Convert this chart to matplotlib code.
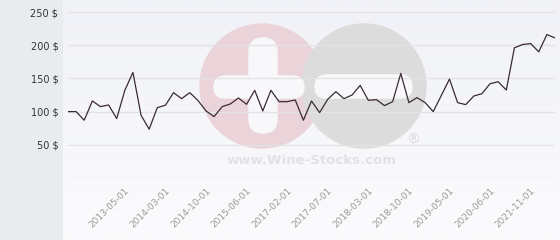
import matplotlib.pyplot as plt
import numpy as np
from matplotlib.patches import Circle, FancyBboxPatch

# price series (one value per point, equally spaced)
prices = [100, 100, 87, 116, 107.5, 110, 89.5, 132, 159, 94.5,
          73.5, 106, 109.5, 128.5, 119.5, 128.5, 117, 101, 92.5, 107.5,
          111.5, 120.5, 111, 132, 101, 132, 115, 115, 117.5, 87,
          116, 98.5, 118.5, 130, 119.5, 125, 139.5, 117, 118, 109,
          115, 157.5, 113.5, 121, 113.5, 100, 124.5, 149, 113.5, 110.5,
          123.5, 127, 142, 145, 132.5, 196, 201, 202.5, 190, 216, 211]
tick_pos = [7, 12, 17, 22, 27, 32, 37, 42, 47, 52, 57]
tick_labels = ['2013-05-01', '2014-03-01', '2014-10-01', '2015-06-01', '2017-02-01',
               '2017-07-01', '2018-03-01', '2018-10-01', '2019-05-01', '2020-06-01',
               '2021-11-01']
y_ticks = [50, 100, 150, 200, 250]

fig = plt.figure(figsize=(5.6, 2.4), dpi=100)
fig.patch.set_facecolor('#e8ecef')

# background panel + watermark, in pixel coords
bg = fig.add_axes([0, 0, 1, 1])
bg.set_xlim(0, 560)
bg.set_ylim(240, 0)
bg.axis('off')
grad = np.linspace(0, 1, 100).reshape(-1, 1)
bg.imshow(grad, extent=[63, 560, 240, 0], cmap=plt.matplotlib.colors.LinearSegmentedColormap.from_list(
    'g', ['#f1f2f7', '#fbfbfd']), aspect='auto', zorder=0)
bg.set_xlim(0, 560)
bg.set_ylim(240, 0)

bg.add_patch(Circle((262, 86), 62, color='#ebd3da', zorder=1))
bg.add_patch(Circle((364, 86), 62, color='#dcdcdc', zorder=1))
bg.add_patch(FancyBboxPatch((214, 76), 90, 22, boxstyle='round,pad=0,rounding_size=11',
                            color='#f8f8fb', zorder=2))
bg.add_patch(FancyBboxPatch((249, 38), 28, 95, boxstyle='round,pad=0,rounding_size=14',
                            color='#f8f8fb', zorder=2))
bg.add_patch(FancyBboxPatch((315, 75), 97, 23, boxstyle='round,pad=0,rounding_size=11',
                            color='#f8f8fb', zorder=2))
bg.text(312, 161, 'www.Wine-Stocks.com', ha='center', va='center', fontsize=9.5,
        fontweight='bold', color='#e2e2e4', zorder=2)
bg.text(413, 140, '®', ha='center', va='center', fontsize=10, color='#dcdcdc', zorder=2)

ax = fig.add_axes([68 / 560, 62 / 240, 487 / 560, 166 / 240])
ax.patch.set_alpha(0)
x = np.arange(len(prices))
ax.plot(x, prices, color='#3a2a35', lw=0.9)
ax.set_xlim(0, len(prices) - 1)
ax.set_ylim(0, 250)
ax.set_yticks([0] + y_ticks)
ax.set_yticklabels([''] + ['%d $' % v for v in y_ticks], fontsize=7, color='#333333')
ax.set_xticks(tick_pos)
ax.set_xticklabels(tick_labels, rotation=45, ha='right', fontsize=6.5, color='#9a9a9a',
                   rotation_mode='anchor')
ax.tick_params(length=0, axis='y', pad=7)
ax.tick_params(length=0, axis='x', pad=6)
ax.grid(axis='y', color='#e3e3e6', lw=1)
ax.set_axisbelow(True)
for s in ax.spines.values():
    s.set_visible(False)

fig.savefig('out.png', dpi=100, facecolor=fig.get_facecolor())
